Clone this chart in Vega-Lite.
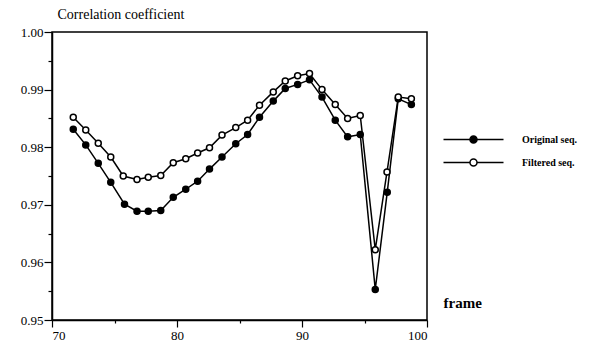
{
  "$schema": "https://vega.github.io/schema/vega-lite/v6.json",
  "width": 375,
  "height": 288,
  "autosize": {"type": "none"},
  "padding": {"left": 52, "top": 32, "right": 183, "bottom": 28},
  "background": "white",
  "config": {
    "view": {"stroke": "black", "strokeWidth": 1.5},
    "font": "Liberation Serif",
    "axis": {
      "domainColor": "black", "domainWidth": 1.5, "tickColor": "black", "tickWidth": 1.2,
      "grid": false, "labelFont": "Liberation Serif", "labelFontSize": 13, "labelColor": "black",
      "titleFont": "Liberation Serif", "titleColor": "black", "titleFontWeight": "normal"
    }
  },
  "data": {"values": [
    {"frame": 71.7, "value": 0.9831, "series": "Original seq."},
    {"frame": 72.7, "value": 0.9804, "series": "Original seq."},
    {"frame": 73.7, "value": 0.9772, "series": "Original seq."},
    {"frame": 74.7, "value": 0.9739, "series": "Original seq."},
    {"frame": 75.8, "value": 0.9701, "series": "Original seq."},
    {"frame": 76.8, "value": 0.9689, "series": "Original seq."},
    {"frame": 77.7, "value": 0.9689, "series": "Original seq."},
    {"frame": 78.7, "value": 0.9690, "series": "Original seq."},
    {"frame": 79.7, "value": 0.9713, "series": "Original seq."},
    {"frame": 80.7, "value": 0.9727, "series": "Original seq."},
    {"frame": 81.65, "value": 0.9741, "series": "Original seq."},
    {"frame": 82.6, "value": 0.9762, "series": "Original seq."},
    {"frame": 83.6, "value": 0.9783, "series": "Original seq."},
    {"frame": 84.7, "value": 0.9806, "series": "Original seq."},
    {"frame": 85.65, "value": 0.9822, "series": "Original seq."},
    {"frame": 86.6, "value": 0.9852, "series": "Original seq."},
    {"frame": 87.7, "value": 0.9880, "series": "Original seq."},
    {"frame": 88.66, "value": 0.9902, "series": "Original seq."},
    {"frame": 89.65, "value": 0.9909, "series": "Original seq."},
    {"frame": 90.6, "value": 0.9917, "series": "Original seq."},
    {"frame": 91.6, "value": 0.9887, "series": "Original seq."},
    {"frame": 92.66, "value": 0.9847, "series": "Original seq."},
    {"frame": 93.65, "value": 0.9818, "series": "Original seq."},
    {"frame": 94.66, "value": 0.9822, "series": "Original seq."},
    {"frame": 95.86, "value": 0.9553, "series": "Original seq."},
    {"frame": 96.82, "value": 0.9722, "series": "Original seq."},
    {"frame": 97.7, "value": 0.9884, "series": "Original seq."},
    {"frame": 98.75, "value": 0.9874, "series": "Original seq."},
    {"frame": 71.7, "value": 0.9852, "series": "Filtered seq."},
    {"frame": 72.7, "value": 0.9830, "series": "Filtered seq."},
    {"frame": 73.7, "value": 0.9807, "series": "Filtered seq."},
    {"frame": 74.7, "value": 0.9783, "series": "Filtered seq."},
    {"frame": 75.7, "value": 0.9750, "series": "Filtered seq."},
    {"frame": 76.8, "value": 0.9744, "series": "Filtered seq."},
    {"frame": 77.7, "value": 0.9748, "series": "Filtered seq."},
    {"frame": 78.7, "value": 0.9751, "series": "Filtered seq."},
    {"frame": 79.7, "value": 0.9773, "series": "Filtered seq."},
    {"frame": 80.7, "value": 0.9780, "series": "Filtered seq."},
    {"frame": 81.65, "value": 0.9790, "series": "Filtered seq."},
    {"frame": 82.6, "value": 0.9799, "series": "Filtered seq."},
    {"frame": 83.6, "value": 0.9821, "series": "Filtered seq."},
    {"frame": 84.7, "value": 0.9834, "series": "Filtered seq."},
    {"frame": 85.65, "value": 0.9847, "series": "Filtered seq."},
    {"frame": 86.6, "value": 0.9873, "series": "Filtered seq."},
    {"frame": 87.7, "value": 0.9896, "series": "Filtered seq."},
    {"frame": 88.66, "value": 0.9915, "series": "Filtered seq."},
    {"frame": 89.65, "value": 0.9924, "series": "Filtered seq."},
    {"frame": 90.6, "value": 0.9928, "series": "Filtered seq."},
    {"frame": 91.6, "value": 0.9900, "series": "Filtered seq."},
    {"frame": 92.66, "value": 0.9874, "series": "Filtered seq."},
    {"frame": 93.65, "value": 0.9850, "series": "Filtered seq."},
    {"frame": 94.66, "value": 0.9855, "series": "Filtered seq."},
    {"frame": 95.86, "value": 0.9622, "series": "Filtered seq."},
    {"frame": 96.8, "value": 0.9757, "series": "Filtered seq."},
    {"frame": 97.7, "value": 0.9887, "series": "Filtered seq."},
    {"frame": 98.75, "value": 0.9884, "series": "Filtered seq."}
  ]},
  "layer": [
    {
      "mark": {"type": "line", "stroke": "black", "strokeWidth": 1.5},
      "encoding": {
        "x": {"field": "frame", "type": "quantitative",
              "scale": {"domain": [70, 100], "nice": false, "zero": false},
              "axis": {"orient": "bottom", "values": [70, 80, 90, 100], "tickSize": 7, "labelPadding": 2,
                       "title": "frame", "titleAngle": 0, "titleAlign": "left", "titleBaseline": "alphabetic",
                       "titleX": 391, "titleY": -13, "titleFontSize": 15, "titleFontWeight": "bold"}},
        "y": {"field": "value", "type": "quantitative",
              "scale": {"domain": [0.95, 1.0], "nice": false, "zero": false},
              "axis": {"orient": "left", "values": [0.95, 0.96, 0.97, 0.98, 0.99, 1.0], "format": ".2f",
                       "tickSize": 8, "labelPadding": 1,
                       "title": "Correlation coefficient", "titleAngle": 0, "titleAlign": "left",
                       "titleBaseline": "alphabetic", "titleX": 5, "titleY": -14, "titleFontSize": 14}},
        "detail": {"field": "series"}
      }
    },
    {
      "mark": {"type": "point", "shape": "circle", "filled": true, "stroke": "black", "strokeWidth": 1.5, "size": 36, "opacity": 1},
      "encoding": {
        "x": {"field": "frame", "type": "quantitative",
              "axis": {"orient": "bottom", "values": [75, 85, 95], "tickSize": 3, "labels": false, "domain": false, "title": null}},
        "y": {"field": "value", "type": "quantitative",
              "axis": {"orient": "left", "values": [0.955, 0.965, 0.975, 0.985, 0.995], "tickSize": 4, "labels": false, "domain": false, "title": null}},
        "fill": {"field": "series", "type": "nominal",
                 "scale": {"domain": ["Original seq.", "Filtered seq."], "range": ["black", "white"]},
                 "legend": {"orient": "none", "legendX": 413, "legendY": 99, "title": null, "padding": 0,
                            "symbolType": "M-4,0H-0.47M0.47,0H4M-0.47,0A0.47,0.47 0 1,1 0.47,0A0.47,0.47 0 1,1 -0.47,0Z",
                            "symbolSize": 225, "symbolStrokeColor": "black", "symbolStrokeWidth": 1.5,
                            "labelFont": "Liberation Serif", "labelFontSize": 10, "labelFontWeight": "bold",
                            "labelColor": "black", "labelOffset": 40, "rowPadding": 7}}
      }
    }
  ],
  "resolve": {"axis": {"x": "independent", "y": "independent"}}
}
